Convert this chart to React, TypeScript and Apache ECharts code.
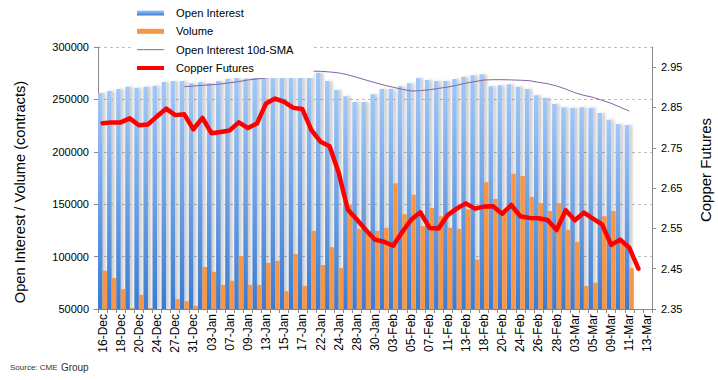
import React, { useEffect, useRef } from "react";
import * as echarts from "echarts";

const categories = [
  "16-Dec","17-Dec","18-Dec","19-Dec","20-Dec","23-Dec","24-Dec","26-Dec","27-Dec","30-Dec","31-Dec",
  "02-Jan","03-Jan","06-Jan","07-Jan","08-Jan","09-Jan","10-Jan","13-Jan","14-Jan","15-Jan","16-Jan","17-Jan",
  "21-Jan","22-Jan","23-Jan","24-Jan","27-Jan","28-Jan","29-Jan","30-Jan","31-Jan",
  "03-Feb","04-Feb","05-Feb","06-Feb","07-Feb","10-Feb","11-Feb","12-Feb","13-Feb","14-Feb",
  "18-Feb","19-Feb","20-Feb","21-Feb","24-Feb","25-Feb","26-Feb","27-Feb","28-Feb",
  "02-Mar","03-Mar","04-Mar","05-Mar","06-Mar","09-Mar","10-Mar","11-Mar","12-Mar","13-Mar"
];

const openInterest = [
  256000, 258000, 260000, 262000, 261000, 262000, 263000, 266500, 267500, 267500, 265500,
  266500, 265500, 267500, 269500, 270500, 270000, 272000, 274000, 276000, 277000, 276000, 277000,
  275000, 275500, 267500, 259000, 253000, 247500, 247500, 255000, 260000,
  260000, 262500, 265500, 270500, 268500, 267500, 267500, 269500, 271500, 273000,
  274000, 262500, 263500, 264500, 262000, 260000, 254000, 251500, 245500,
  242500, 242000, 242500, 242000, 237000, 230500, 226500, 225500, null, null
];

const volume = [
  86500, 79500, 69000, 51000, 63500, 51000, 45000, 45000, 59500, 57500, 53000,
  90000, 85500, 73000, 77000, 100500, 73000, 73000, 94000, 96000, 67000, 102500, 72000,
  124500, 92000, 109000, 89000, 149000, 126500, 122000, 124500, 127500,
  170000, 140500, 159000, 129000, 146500, 138500, 127500, 126500, 145000, 97000,
  171000, 155000, 144000, 179000, 177000, 157000, 151000, 143500, 151000,
  125500, 114000, 72000, 75000, 138500, 143500, 112000, 89000, null, null
];

const oiSma10 = [
  null, null, null, null, null, null, null, null, null, 262100, 262800,
  263400, 264000, 264700, 265800, 267000, 268500, 269500, 270500, 271500, 273000, 274500, 276000,
  277000, 276800, 276200, 275300, 273500, 271000, 268500, 266000, 263600,
  261600, 259600, 258000, 258300, 259200, 260500, 261800, 263500, 265500, 267000,
  268500, 268800, 268800, 268600, 268300, 267900, 266300, 265000, 262800,
  259900, 256400, 253900, 252000, 249100, 246300, 242500, 238900, null, null
];

const copper = [
  2.811, 2.813, 2.813, 2.823, 2.806, 2.808, 2.828, 2.847, 2.831, 2.833, 2.796,
  2.824, 2.786, 2.789, 2.793, 2.813, 2.799, 2.81, 2.86, 2.872, 2.864, 2.849, 2.846,
  2.794, 2.765, 2.754, 2.688, 2.597, 2.572, 2.546, 2.522, 2.517,
  2.507, 2.541, 2.572, 2.59, 2.551, 2.55, 2.583, 2.599, 2.612, 2.599,
  2.604, 2.605, 2.586, 2.608, 2.58, 2.576, 2.575, 2.571, 2.546,
  2.595, 2.57, 2.589, 2.574, 2.56, 2.509, 2.522, 2.502, 2.45, null
];

const FONT = "'Liberation Sans', Arial, sans-serif";

export default function App() {
  const ref = useRef<HTMLDivElement>(null);

  useEffect(() => {
    if (!ref.current) return;
    document.body.style.margin = "0";
    const chart = echarts.init(ref.current, null, { renderer: "svg" });
    const option: any = {
      animation: false,
      textStyle: { fontFamily: FONT },
      grid: { left: 98, right: 66, top: 47, bottom: 71 },
      legend: {
        orient: "vertical",
        left: 132,
        top: 0,
        padding: [6, 20, 3, 5],
        backgroundColor: "#ffffff",
        itemWidth: 27,
        itemHeight: 5,
        itemGap: 4.33,
        textStyle: { fontSize: 11.2, color: "#000", lineHeight: 14, padding: [0, 0, 0, 7], fontFamily: FONT },
        data: [
          { name: "Open Interest", icon: "rect", itemStyle: { borderWidth: 0 } },
          { name: "Volume", icon: "rect", itemStyle: { borderWidth: 0 } },
          { name: "Open Interest 10d-SMA", icon: "path://M0,0H27V1H0Z", itemStyle: { borderWidth: 0, color: "#8064a2" } },
          { name: "Copper Futures", icon: "path://M0,0H27V4H0Z", itemStyle: { borderWidth: 0, color: "#ff0000" } },
        ],
      },
      xAxis: {
        type: "category",
        data: categories,
        boundaryGap: true,
        axisLine: { show: true, lineStyle: { color: "#888" } },
        axisTick: { show: true, interval: 0, length: 4, lineStyle: { color: "#888" } },
        axisLabel: { interval: 1, rotate: 90, fontSize: 12, color: "#000", margin: 5, fontFamily: FONT },
        splitLine: { show: false },
      },
      yAxis: [
        {
          type: "value",
          min: 50000,
          max: 300000,
          interval: 50000,
          axisLine: { show: true, lineStyle: { color: "#888" } },
          axisTick: { show: true, length: 4, lineStyle: { color: "#888" } },
          axisLabel: {
            fontSize: 11,
            color: "#000",
            margin: 9,
            fontFamily: FONT,
            formatter: (v: number) => String(Math.round(v)),
          },
          splitLine: { show: true, lineStyle: { color: "#bdbdbd", type: [3, 3], width: 1 } },
        },
        {
          type: "value",
          position: "right",
          min: 2.35,
          max: 3.0,
          interval: 0.1,
          axisLine: { show: true, lineStyle: { color: "#888" } },
          axisTick: { show: true, length: 4, lineStyle: { color: "#888" } },
          axisLabel: {
            fontSize: 11,
            color: "#000",
            margin: 9,
            showMaxLabel: false,
            fontFamily: FONT,
            formatter: (v: number) => v.toFixed(2),
          },
          splitLine: { show: false },
        },
      ],
      series: [
        {
          name: "Open Interest",
          type: "bar",
          yAxisIndex: 0,
          data: openInterest,
          barGap: "0%",
          barCategoryGap: "0%",
          clip: true,
          itemStyle: {
            color: new echarts.graphic.LinearGradient(0, 0, 0, 1, [
              { offset: 0, color: "#a3c8f8" },
              { offset: 1, color: "#3a7bd1" },
            ]),
            shadowColor: "rgba(0,0,0,0.2)",
            shadowBlur: 3,
            shadowOffsetX: 3,
          },
        },
        {
          name: "Volume",
          type: "bar",
          yAxisIndex: 0,
          data: volume,
          clip: true,
          itemStyle: { color: "#f79646" },
        },
        {
          name: "Open Interest 10d-SMA",
          type: "line",
          yAxisIndex: 0,
          data: oiSma10,
          color: "#8064a2",
          symbol: "none",
          showSymbol: false,
          lineStyle: { width: 1, color: "#8064a2" },
        },
        {
          name: "Copper Futures",
          type: "line",
          yAxisIndex: 1,
          data: copper,
          color: "#ff0000",
          symbol: "none",
          showSymbol: false,
          lineStyle: { width: 4.5, color: "#ff0000", join: "round", cap: "round" },
        },
      ],
      graphic: [
        {
          type: "text",
          x: 20,
          y: 192,
          rotation: Math.PI / 2,
          style: {
            text: "Open Interest / Volume (contracts)",
            fontSize: 14.6,
            fontFamily: FONT,
            fill: "#000",
            align: "center",
            verticalAlign: "middle",
          },
        },
        {
          type: "text",
          x: 705,
          y: 170,
          rotation: Math.PI / 2,
          style: {
            text: "Copper Futures",
            fontSize: 15,
            fontFamily: FONT,
            fill: "#000",
            align: "center",
            verticalAlign: "middle",
          },
        },
        {
          type: "text",
          x: 10,
          y: 367,
          style: {
            text: "{a|Source: CME} {b|Group}",
            fontFamily: FONT,
            fill: "#333",
            verticalAlign: "middle",
            rich: {
              a: { fontSize: 8, fill: "#333", fontFamily: FONT },
              b: { fontSize: 10, fill: "#333", fontFamily: FONT },
            },
          },
        },
      ],
    };
    chart.setOption(option);
    return () => chart.dispose();
  }, []);

  return (
    <div
      ref={ref}
      style={{ position: "absolute", left: 0, top: 0, width: 718, height: 380 }}
    />
  );
}
